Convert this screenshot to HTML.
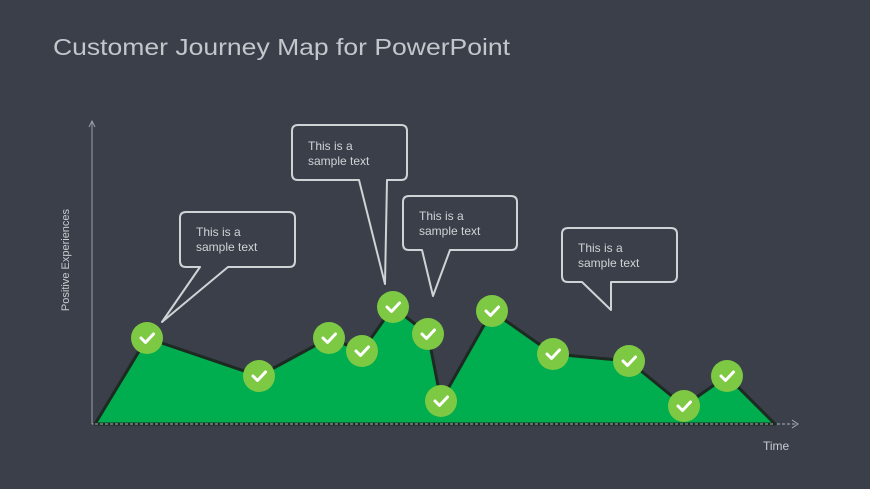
<!DOCTYPE html>
<html><head><meta charset="utf-8"><style>
html,body{margin:0;padding:0;background:#3a3f4a;}
svg{display:block}
</style></head><body>
<svg width="870" height="489" viewBox="0 0 870 489" xmlns="http://www.w3.org/2000/svg" font-family="Liberation Sans, sans-serif">
<rect width="870" height="489" fill="#3a3f4a"/>
<text x="53" y="55" font-size="23" fill="#c3c7cc" textLength="457" lengthAdjust="spacingAndGlyphs">Customer Journey Map for PowerPoint</text>
<!-- axes -->
<line x1="92" y1="424" x2="92" y2="122" stroke="#9aa0a8" stroke-width="1"/>
<polyline points="89,127 92,121 95,127" fill="none" stroke="#9aa0a8" stroke-width="1"/>
<line x1="92" y1="424" x2="797" y2="424" stroke="#aab0b8" stroke-width="1" stroke-dasharray="3,2"/>
<polyline points="792,420 798,424 792,428" fill="none" stroke="#aab0b8" stroke-width="1"/>
<text x="69" y="260" font-size="11" fill="#c8ccd0" transform="rotate(-90 69 260)" text-anchor="middle">Positive Experiences</text>
<text x="763" y="450" font-size="12" fill="#c8ccd0">Time</text>
<!-- area -->
<polygon points="95,424 147,338 259,376 329,338 362,351 393,307 428,334 441,401 492,311 553,354 629,361 684,406 727,376 775,424" fill="#00ad4f" stroke="#1d2a22" stroke-width="3" stroke-linejoin="round"/>
<line x1="95" y1="424" x2="775" y2="424" stroke="#aab0b8" stroke-width="1" stroke-dasharray="3,2"/>
<!-- callouts -->
<g fill="#3a3f4a" stroke="#d0d3d6" stroke-width="2" stroke-linejoin="round">
<path d="M186,212 H289 Q295,212 295,218 V261 Q295,267 289,267 H228 L162,322 L200,267 H186 Q180,267 180,261 V218 Q180,212 186,212 Z"/>
<path d="M298,125 H401 Q407,125 407,131 V174 Q407,180 401,180 H387 L385,284 L359,180 H298 Q292,180 292,174 V131 Q292,125 298,125 Z"/>
<path d="M409,196 H511 Q517,196 517,202 V244 Q517,250 511,250 H450 L433,296 L422,250 H409 Q403,250 403,244 V202 Q403,196 409,196 Z"/>
<path d="M568,228 H671 Q677,228 677,234 V276 Q677,282 671,282 H611 L611,310 L582,282 H568 Q562,282 562,276 V234 Q562,228 568,228 Z"/>
</g>
<g font-size="12" fill="#d0d3d6">
<text x="196" y="236">This is a</text><text x="196" y="251">sample text</text>
<text x="308" y="150">This is a</text><text x="308" y="165">sample text</text>
<text x="419" y="220">This is a</text><text x="419" y="235">sample text</text>
<text x="578" y="252">This is a</text><text x="578" y="267">sample text</text>
</g>
<!-- check circles -->
<g id="c">
<g transform="translate(147,338)"><circle r="16" fill="#7dc943"/><path d="M-6,0 L-1.5,4.5 L6.5,-4" fill="none" stroke="#fff" stroke-width="3" stroke-linecap="round" stroke-linejoin="round"/></g>
<g transform="translate(259,376)"><circle r="16" fill="#7dc943"/><path d="M-6,0 L-1.5,4.5 L6.5,-4" fill="none" stroke="#fff" stroke-width="3" stroke-linecap="round" stroke-linejoin="round"/></g>
<g transform="translate(329,338)"><circle r="16" fill="#7dc943"/><path d="M-6,0 L-1.5,4.5 L6.5,-4" fill="none" stroke="#fff" stroke-width="3" stroke-linecap="round" stroke-linejoin="round"/></g>
<g transform="translate(362,351)"><circle r="16" fill="#7dc943"/><path d="M-6,0 L-1.5,4.5 L6.5,-4" fill="none" stroke="#fff" stroke-width="3" stroke-linecap="round" stroke-linejoin="round"/></g>
<g transform="translate(393,307)"><circle r="16" fill="#7dc943"/><path d="M-6,0 L-1.5,4.5 L6.5,-4" fill="none" stroke="#fff" stroke-width="3" stroke-linecap="round" stroke-linejoin="round"/></g>
<g transform="translate(428,334)"><circle r="16" fill="#7dc943"/><path d="M-6,0 L-1.5,4.5 L6.5,-4" fill="none" stroke="#fff" stroke-width="3" stroke-linecap="round" stroke-linejoin="round"/></g>
<g transform="translate(441,401)"><circle r="16" fill="#7dc943"/><path d="M-6,0 L-1.5,4.5 L6.5,-4" fill="none" stroke="#fff" stroke-width="3" stroke-linecap="round" stroke-linejoin="round"/></g>
<g transform="translate(492,311)"><circle r="16" fill="#7dc943"/><path d="M-6,0 L-1.5,4.5 L6.5,-4" fill="none" stroke="#fff" stroke-width="3" stroke-linecap="round" stroke-linejoin="round"/></g>
<g transform="translate(553,354)"><circle r="16" fill="#7dc943"/><path d="M-6,0 L-1.5,4.5 L6.5,-4" fill="none" stroke="#fff" stroke-width="3" stroke-linecap="round" stroke-linejoin="round"/></g>
<g transform="translate(629,361)"><circle r="16" fill="#7dc943"/><path d="M-6,0 L-1.5,4.5 L6.5,-4" fill="none" stroke="#fff" stroke-width="3" stroke-linecap="round" stroke-linejoin="round"/></g>
<g transform="translate(684,406)"><circle r="16" fill="#7dc943"/><path d="M-6,0 L-1.5,4.5 L6.5,-4" fill="none" stroke="#fff" stroke-width="3" stroke-linecap="round" stroke-linejoin="round"/></g>
<g transform="translate(727,376)"><circle r="16" fill="#7dc943"/><path d="M-6,0 L-1.5,4.5 L6.5,-4" fill="none" stroke="#fff" stroke-width="3" stroke-linecap="round" stroke-linejoin="round"/></g>
</g>
</svg>
</body></html>
